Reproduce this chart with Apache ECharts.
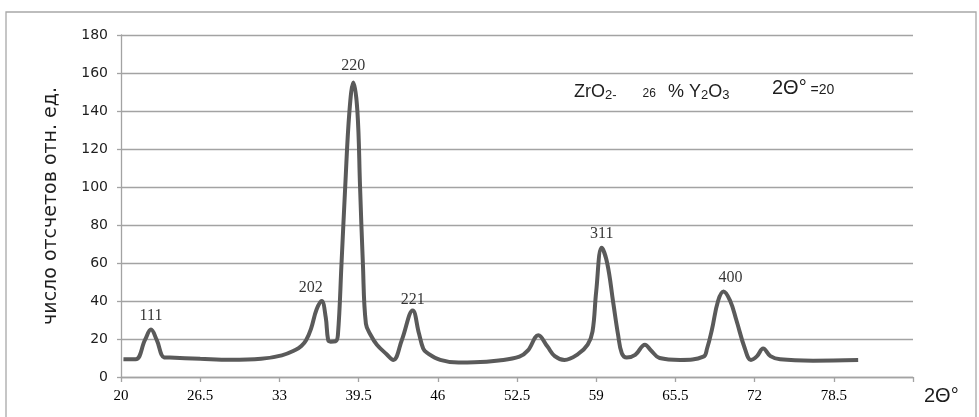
<!DOCTYPE html>
<html>
<head>
<meta charset="utf-8">
<script src="https://cdn.jsdelivr.net/npm/echarts@6/dist/echarts.min.js"></script>
<style>
html,body{margin:0;padding:0;background:#fff;}
#chart{width:979px;height:417px;}
</style>
</head>
<body>
<div id="chart"></div>
<script>
// 2θ values (degrees)
var twoTheta = [20.2, 21.2, 21.97, 22.46, 22.93, 23.55, 24.0, 26.5, 29, 31.5, 33.2, 34.3, 34.8, 35.2, 35.6, 36.05, 36.47, 36.8, 37.0, 37.2, 37.6, 37.8, 38.1, 38.4, 38.75, 39.07, 39.4, 39.62, 39.85, 40.1, 40.5, 41.0, 41.8, 42.35, 43.05, 43.94, 44.45, 44.8, 45.1, 46.2, 47.7, 49.0, 51.0, 52.7, 53.4, 54.25, 55.0, 55.6, 56.4, 57.5, 58.3, 58.7, 59.0, 59.45, 59.9, 60.4, 60.8, 61.1, 61.5, 62.2, 63.0, 63.5, 64.2, 65.9, 67.8, 68.1, 68.5, 69.0, 69.45, 70.0, 70.5, 71.2, 71.7, 72.2, 72.7, 73.3, 74.1, 76.8, 80.5];
// counts (rel. units)
var counts = [9.4, 9.3, 19.5, 25, 19.5, 10.3, 10.2, 9.6, 9.1, 9.6, 11.4, 14.2, 16.3, 19.5, 25.5, 35.5, 40, 31.5, 19.5, 18.6, 18.8, 22, 60, 100, 140, 155, 140, 100, 60, 28, 22, 17, 12, 9, 19.5, 35, 23, 15, 12.8, 9, 7.6, 7.7, 8.7, 10.7, 14, 22, 16, 11, 9, 12, 17, 24, 45, 68, 60, 39, 22, 12.5, 10.2, 11.6, 17, 14, 10, 9, 10.7, 15, 25, 40, 45, 40, 30, 15, 9, 11, 15, 11, 9.3, 8.6, 8.9];
// peak labels (Miller indices)
var peakNames = ['111', '202', '220', '221', '311', '400'];
var peakX = [22.46, 36.47, 39.07, 43.94, 59.45, 69.45];
var peakY = [25, 40, 155, 35, 68, 45];
// axes
var xStart = 20, xEnd = 85, xStep = 6.5;
var yMin = 0, yMax = 180, yStep = 20;

var labelOffsets = {
  '111': [0, -3], '202': [-11, -3], '220': [0, -6],
  '221': [0, 0], '311': [0, -4], '400': [7, -3]
};

var chart = echarts.init(document.getElementById('chart'), null, {renderer: 'canvas'});

var lineData = twoTheta.map(function (x, i) { return [x - xStart, counts[i]]; });
var peakData = peakX.map(function (x, i) {
  var off = labelOffsets[peakNames[i]] || [0, 0];
  return {
    value: [x - xStart, peakY[i]],
    name: peakNames[i],
    label: {offset: off}
  };
});

var gridColor = '#a3a3a3';
var textColor = '#1e1e1e';

chart.setOption({
  animation: false,
  backgroundColor: '#ffffff',
  grid: {left: 121, right: 66, top: 35, bottom: 40, containLabel: false},
  xAxis: {
    type: 'value',
    min: 0,
    max: xEnd - xStart,
    interval: xStep,
    axisLine: {show: true, lineStyle: {color: gridColor, width: 1.3}},
    axisTick: {show: true, length: 5, lineStyle: {color: gridColor, width: 1.3}},
    splitLine: {show: false},
    axisLabel: {
      color: '#000',
      fontFamily: 'Liberation Serif',
      fontSize: 15,
      margin: 12,
      formatter: function (v) {
        if (v >= xEnd - xStart - 0.01) return '';
        var r = Math.round((v + xStart) * 10) / 10;
        return String(r);
      }
    }
  },
  yAxis: {
    type: 'value',
    min: yMin,
    max: yMax,
    interval: yStep,
    name: 'число отсчетов отн. ед.',
    nameLocation: 'middle',
    nameRotate: 90,
    nameGap: 60,
    nameTextStyle: {color: textColor, fontFamily: 'DejaVu Sans', fontSize: 19},
    axisLine: {show: true, lineStyle: {color: gridColor, width: 1.3}},
    axisTick: {show: true, length: 4, lineStyle: {color: gridColor, width: 1.3}},
    splitLine: {show: true, lineStyle: {color: gridColor, width: 1.3}},
    axisLabel: {color: textColor, fontFamily: 'DejaVu Sans', fontSize: 14, margin: 13}
  },
  series: [
    {
      type: 'line',
      data: lineData,
      smooth: 0.4,
      symbol: 'none',
      lineStyle: {color: '#5a5a5a', width: 4},
      z: 3
    },
    {
      type: 'scatter',
      data: peakData,
      symbolSize: 1,
      itemStyle: {color: 'rgba(0,0,0,0)'},
      label: {
        show: true,
        position: 'top',
        distance: 2,
        formatter: '{b}',
        color: '#000',
        fontFamily: 'Liberation Serif',
        fontSize: 16
      },
      z: 4
    }
  ],
  graphic: [
    {
      type: 'rect',
      shape: {x: 6, y: 12, width: 970, height: 430},
      style: {fill: 'none', stroke: '#a8a8a8', lineWidth: 1.3},
      silent: true
    },
    {
      type: 'text',
      left: 574,
      top: 83,
      style: {
        text: '{m|ZrO}{s|2-}{g| }{n|26}{h| }{m|% Y}{s|2}{m|O}{s|3}',
        fill: textColor,
        rich: {
          m: {fontFamily: 'Liberation Sans', fontSize: 18, fill: textColor, verticalAlign: 'bottom'},
          s: {fontFamily: 'Liberation Sans', fontSize: 13, fill: textColor, verticalAlign: 'bottom', padding: [0, 0, -1, 0]},
          n: {fontFamily: 'Liberation Sans', fontSize: 12, fill: textColor, verticalAlign: 'bottom', padding: [0, 0, 1, 0]},
          g: {fontFamily: 'Liberation Sans', fontSize: 18, width: 26},
          h: {fontFamily: 'Liberation Sans', fontSize: 18, width: 12}
        }
      }
    },
    {
      type: 'text',
      left: 772,
      top: 78,
      style: {
        text: '{b|2Θ°}{s| =20}',
        fill: textColor,
        rich: {
          b: {fontFamily: 'Liberation Sans', fontSize: 20, fill: textColor, verticalAlign: 'bottom'},
          s: {fontFamily: 'Liberation Sans', fontSize: 14, fill: textColor, verticalAlign: 'bottom', padding: [0, 0, 1, 0]}
        }
      }
    },
    {
      type: 'text',
      left: 924,
      top: 386,
      style: {
        text: '2Θ°',
        fill: textColor,
        fontFamily: 'Liberation Sans',
        fontSize: 20
      }
    }
  ]
});
</script>
</body>
</html>
